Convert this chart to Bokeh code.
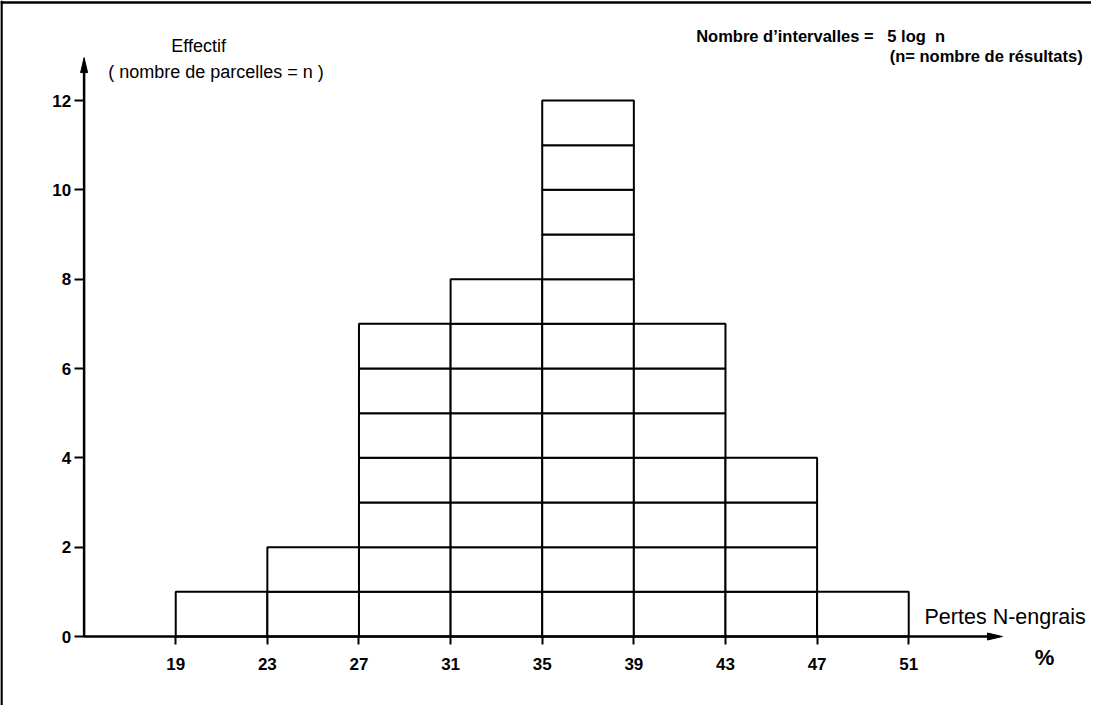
from bokeh.plotting import figure
from bokeh.models import Range1d, FixedTicker, Label, Span
from bokeh.embed import file_html
from bokeh.resources import INLINE

# ---------------- data ----------------
bin_edges = [19, 23, 27, 31, 35, 39, 43, 47, 51]
counts = [1, 2, 7, 8, 12, 7, 4, 1]
x_ticks = [19, 23, 27, 31, 35, 39, 43, 47, 51]
y_ticks = [0, 2, 4, 6, 8, 10, 12]
y_title = "Effectif"
y_subtitle = "( nombre de parcelles = n )"
x_title = "Pertes N-engrais"
x_unit = "%"
note_line1 = "Nombre d\u2019intervalles = \u00a0\u00a05 log \u00a0n"
note_line2 = "(n= nombre de r\u00e9sultats)"

# ---------------- layout ----------------
W, H = 1091, 705
PX_X = 22.906   # pixels per % unit
PX_Y = 44.667   # pixels per count unit
X_LEFT = 11.35  # data x at canvas left edge
Y_TOP = 14.239  # data y at canvas top edge
ORIGIN_X = 15
X_ARROW_END = 55.09
Y_ARROW_END = 12.96
FONT = "Liberation Sans"

p = figure(width=W, height=H,
           x_range=Range1d(X_LEFT, X_LEFT + W / PX_X),
           y_range=Range1d(Y_TOP - H / PX_Y, Y_TOP),
           output_backend="svg", toolbar_location=None, min_border=0)
p.grid.visible = False
p.outline_line_color = None
p.background_fill_color = "white"
p.border_fill_color = "white"

# unit boxes of the histogram
lefts, rights, bottoms, tops = [], [], [], []
for i, c in enumerate(counts):
    for k in range(c):
        lefts.append(bin_edges[i])
        rights.append(bin_edges[i + 1])
        bottoms.append(k)
        tops.append(k + 1)
p.quad(left=lefts, right=rights, bottom=bottoms, top=tops,
       fill_color="white", line_color="black", line_width=2)

# axes lines with arrows
head_len_x = 15 / PX_X
head_half_y = 3.5 / PX_Y
head_len_y = 15 / PX_Y
head_half_x = 3.5 / PX_X
p.line([ORIGIN_X, X_ARROW_END - head_len_x * 0.5], [0, 0], line_color="black", line_width=2.5)
p.line([ORIGIN_X, ORIGIN_X], [0, Y_ARROW_END - head_len_y * 0.5], line_color="black", line_width=2.5)
p.patch([X_ARROW_END, X_ARROW_END - head_len_x, X_ARROW_END - head_len_x],
        [0, head_half_y, -head_half_y], fill_color="black", line_color="black", line_width=1)
p.patch([ORIGIN_X, ORIGIN_X - head_half_x, ORIGIN_X + head_half_x],
        [Y_ARROW_END, Y_ARROW_END - head_len_y, Y_ARROW_END - head_len_y],
        fill_color="black", line_color="black", line_width=1)

# axes (ticks and labels)
xa = p.xaxis[0]
xa.fixed_location = 0
xa.ticker = FixedTicker(ticks=x_ticks)
xa.axis_line_color = None
xa.major_tick_line_width = 2
xa.major_tick_out = 8
xa.major_tick_in = 0
xa.minor_tick_out = 0
xa.minor_tick_in = 0
xa.major_label_standoff = 13
xa.major_label_text_font = FONT
xa.major_label_text_font_style = "bold"
xa.major_label_text_font_size = "17px"
xa.major_label_text_color = "black"

ya = p.yaxis[0]
ya.fixed_location = ORIGIN_X
ya.ticker = FixedTicker(ticks=y_ticks)
ya.axis_line_color = None
ya.major_tick_line_width = 2
ya.major_tick_out = 10
ya.major_tick_in = 0
ya.minor_tick_out = 0
ya.minor_tick_in = 0
ya.major_label_standoff = 3
ya.major_label_text_font = FONT
ya.major_label_text_font_style = "bold"
ya.major_label_text_font_size = "17px"
ya.major_label_text_color = "black"

# frame lines (top and left)
p.add_layout(Span(location=Y_TOP - 2 / PX_Y, dimension="width", line_color="black", line_width=2.5))
p.add_layout(Span(location=X_LEFT + 1 / PX_X, dimension="height", line_color="black", line_width=2.5))

# texts
def lab(x, y, text, size, style="normal", align="left"):
    p.add_layout(Label(x=x, y=y, text=text, text_font=FONT, text_font_size=size,
                       text_font_style=style, text_align=align,
                       text_baseline="middle", text_color="black"))

lab(20.0, 13.23, y_title, "18px", align="center")
lab(20.76, 12.63, y_subtitle, "18px", align="center")
lab(41.72, 13.45, note_line1, "16.5px", style="bold")
lab(50.17, 13.0, note_line2, "16.5px", style="bold")
lab(51.69, 0.43, x_title, "21.5px")
lab(56.93, -0.47, x_unit, "22px", style="bold", align="center")

open("out.html", "w").write(file_html(p, INLINE))
